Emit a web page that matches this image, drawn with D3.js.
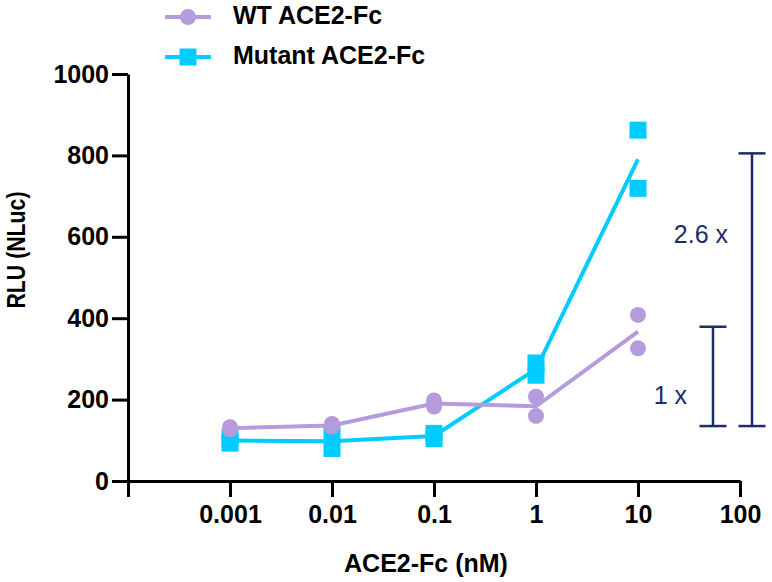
<!DOCTYPE html>
<html>
<head>
<meta charset="utf-8">
<script src="https://cdn.jsdelivr.net/npm/d3@7"></script>
<style>
  body { margin: 0; background: #fff; }
  svg { display: block; font-family: "Liberation Sans", Arial, sans-serif; }
</style>
</head>
<body>
<svg id="chart"></svg>
<script>
// concentrations (nM) and duplicate readings per series
const conc = [0.001, 0.01, 0.1, 1, 10];
const wtRep1 = [127, 133, 183, 207, 408];
const wtRep2 = [132, 140, 198, 160, 326];
const mutRep1 = [106, 115, 117, 290, 862];
const mutRep2 = [93, 80, 104, 260, 719];

const seriesNames = ['WT ACE2-Fc', 'Mutant ACE2-Fc'];
const xTicks = [0.0001, 0.001, 0.01, 0.1, 1, 10, 100];
const xTickLabels = ['', '0.001', '0.01', '0.1', '1', '10', '100'];
const yTicks = [0, 200, 400, 600, 800, 1000];

// fold-change brackets
const foldLabels = ['1 x', '2.6 x'];
const foldLow = [135, 135];
const foldHigh = [379, 805];

const w = 772;
const h = 582;
const purple = '#b59bdb';
const cyan = '#00ccff';
const navy = '#1b2d68';

const svg = d3.select('#chart').attr('width', w).attr('height', h);

const x = d3.scaleLog().domain([0.0001, 100]).range([128, 740]);
const y = d3.scaleLinear().domain([0, 1000]).range([481, 74]);

const mean = (a, b) => a.map((v, i) => (v + b[i]) / 2);

// axes
const xAxis = d3
  .axisBottom(x)
  .tickValues(xTicks)
  .tickFormat((d, i) => xTickLabels[i])
  .tickSize(16)
  .tickSizeOuter(0)
  .tickPadding(8);

const yAxis = d3
  .axisLeft(y)
  .tickValues(yTicks)
  .tickFormat(d3.format('d'))
  .tickSize(16)
  .tickSizeOuter(0)
  .tickPadding(3);

const gx = svg.append('g').attr('transform', `translate(0,${y(0)})`).call(xAxis);
const gy = svg.append('g').attr('transform', `translate(${x(0.0001)},0)`).call(yAxis);

[gx, gy].forEach((g) => {
  g.selectAll('path, line').attr('stroke', '#000').attr('stroke-width', 3);
  g.selectAll('text')
    .attr('fill', '#000')
    .style('font-size', '25px')
    .style('font-weight', 'bold');
});

svg
  .append('text')
  .attr('x', 426)
  .attr('y', 572)
  .attr('text-anchor', 'middle')
  .style('font-size', '25px')
  .style('font-weight', 'bold')
  .text('ACE2-Fc (nM)');

svg
  .append('text')
  .attr('transform', 'translate(25,250) rotate(-90)')
  .attr('text-anchor', 'middle')
  .attr('textLength', 117)
  .attr('lengthAdjust', 'spacingAndGlyphs')
  .style('font-size', '25px')
  .style('font-weight', 'bold')
  .text('RLU (NLuc)');

const line = d3
  .line()
  .x((d) => x(d[0]))
  .y((d) => y(d[1]));

// mutant series (drawn underneath)
const mutMean = mean(mutRep1, mutRep2);
svg
  .append('path')
  .datum(conc.map((c, i) => [c, mutMean[i]]))
  .attr('d', line)
  .attr('fill', 'none')
  .attr('stroke', cyan)
  .attr('stroke-width', 4);

const mutPts = conc.flatMap((c, i) => [[c, mutRep1[i]], [c, mutRep2[i]]]);
const sq = 17;
svg
  .selectAll('rect.mut')
  .data(mutPts)
  .enter()
  .append('rect')
  .attr('class', 'mut')
  .attr('x', (d) => x(d[0]) - sq / 2)
  .attr('y', (d) => y(d[1]) - sq / 2)
  .attr('width', sq)
  .attr('height', sq)
  .attr('fill', cyan);

// WT series
const wtMean = mean(wtRep1, wtRep2);
svg
  .append('path')
  .datum(conc.map((c, i) => [c, wtMean[i]]))
  .attr('d', line)
  .attr('fill', 'none')
  .attr('stroke', purple)
  .attr('stroke-width', 4);

const wtPts = conc.flatMap((c, i) => [[c, wtRep1[i]], [c, wtRep2[i]]]);
svg
  .selectAll('circle.wt')
  .data(wtPts)
  .enter()
  .append('circle')
  .attr('class', 'wt')
  .attr('cx', (d) => x(d[0]))
  .attr('cy', (d) => y(d[1]))
  .attr('r', 8)
  .attr('fill', purple);

// legend
const legend = svg.append('g');
const legY = [17, 57];
const legColors = [purple, cyan];
seriesNames.forEach((name, i) => {
  legend
    .append('line')
    .attr('x1', 165)
    .attr('x2', 211)
    .attr('y1', legY[i])
    .attr('y2', legY[i])
    .attr('stroke', legColors[i])
    .attr('stroke-width', 4);
  if (i === 0) {
    legend.append('circle').attr('cx', 188).attr('cy', legY[i]).attr('r', 8).attr('fill', purple);
  } else {
    legend
      .append('rect')
      .attr('x', 188 - sq / 2)
      .attr('y', legY[i] - sq / 2)
      .attr('width', sq)
      .attr('height', sq)
      .attr('fill', cyan);
  }
  legend
    .append('text')
    .attr('x', 233)
    .attr('y', legY[i] + 7)
    .style('font-size', '25px')
    .style('font-weight', 'bold')
    .text(name);
});

// fold-change brackets
const brX = [713, 752];
const capHalf = 13.5;
const labY = [404, 243];
const labX = [687, 728];
foldLabels.forEach((lab, i) => {
  const g = svg.append('g').attr('stroke', navy).attr('stroke-width', 2.5);
  g.append('line').attr('x1', brX[i]).attr('x2', brX[i]).attr('y1', y(foldLow[i])).attr('y2', y(foldHigh[i]));
  g.append('line').attr('x1', brX[i] - capHalf).attr('x2', brX[i] + capHalf).attr('y1', y(foldLow[i])).attr('y2', y(foldLow[i]));
  g.append('line').attr('x1', brX[i] - capHalf).attr('x2', brX[i] + capHalf).attr('y1', y(foldHigh[i])).attr('y2', y(foldHigh[i]));
  svg
    .append('text')
    .attr('x', labX[i])
    .attr('y', labY[i])
    .attr('text-anchor', 'end')
    .attr('fill', navy)
    .style('font-size', '25px')
    .text(lab);
});
</script>
</body>
</html>
